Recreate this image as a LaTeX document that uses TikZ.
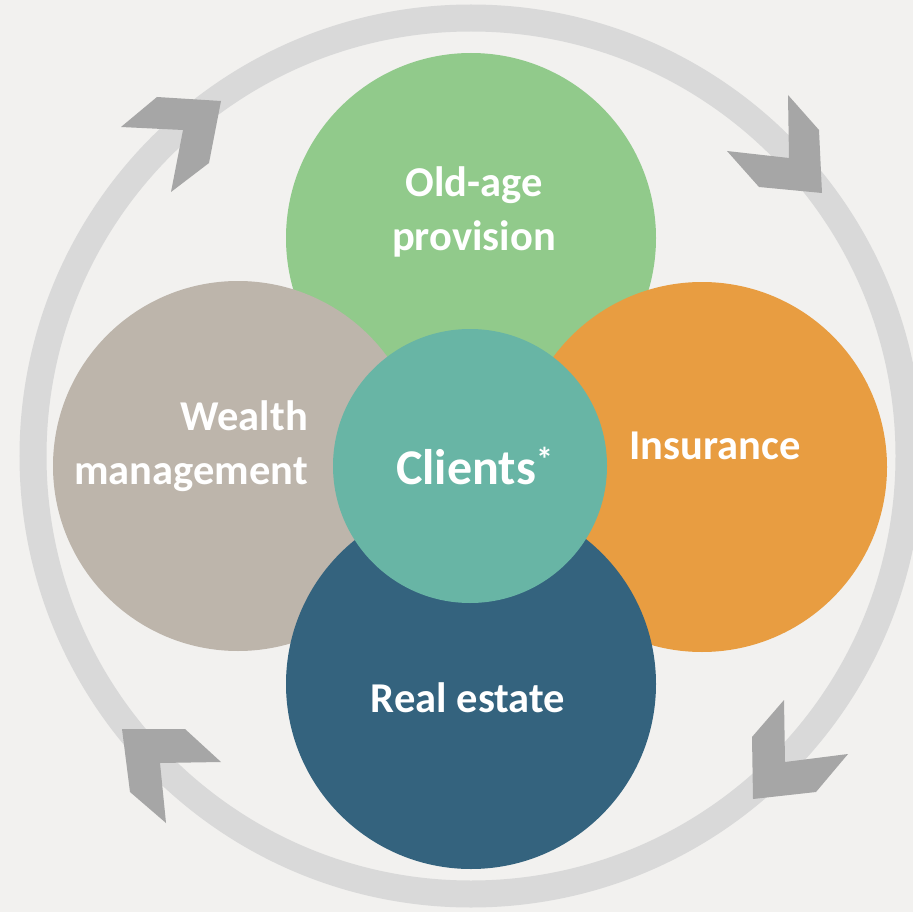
\documentclass[tikz,border=0pt]{standalone}
\usepackage{fontspec}
\setmainfont{Carlito}
\usetikzlibrary{positioning}

\definecolor{paper}{HTML}{F2F1EF}
\definecolor{ringgray}{HTML}{D9D9D9}
\definecolor{chevgray}{HTML}{A6A6A6}
\definecolor{oldgreen}{HTML}{91CA8B}
\definecolor{insorange}{HTML}{E89D41}
\definecolor{wealthgray}{HTML}{BDB5AB}
\definecolor{estateblue}{HTML}{34637E}
\definecolor{clientteal}{HTML}{68B5A5}

\begin{document}
\begin{tikzpicture}[x=1pt,y=-1pt,
		blob/.style={circle,inner sep=0pt,minimum size=370pt},
		lbl/.style={text=white,font=\fontsize{42.5}{54}\selectfont\bfseries,align=center,inner sep=0pt},
		chev/.style={fill=chevgray}]
		\fill[paper] (0,0) rectangle (913,912);
		\useasboundingbox (0,0) rectangle (913,912);
		
		% outer ring
		\draw[ringgray,line width=27pt] (471,456) circle [radius=438];
		
		% chevrons
		\fill[chev] (121,127) -- (157,97) -- (221,101) -- (209,163) -- (171,192) -- (183,130) -- cycle;
		\fill[chev] (788,95) -- (819,130) -- (822,193) -- (759,187) -- (727,151) -- (789,158) -- cycle;
		\fill[chev] (848,754) -- (816,792) -- (753,799) -- (752,737) -- (784,700) -- (785,762) -- cycle;
		\fill[chev] (166,823) -- (130,792) -- (122,729) -- (185,729) -- (221,762) -- (160,763) -- cycle;
		
		% circles
		\node[blob,fill=oldgreen] (old) at (471,238) {};
		\node[blob,fill=wealthgray] (wealth) at (238,466) {};
		\node[blob,fill=insorange] (ins) at (702,467) {};
		\node[blob,fill=estateblue] (estate) at (471,684) {};
		\node[circle,inner sep=0pt,minimum size=274pt,fill=clientteal] (clients) at (470,466) {};
		
		% labels
		\node[lbl] (oldtxt) at (474,212) {Old-age\\provision};
		\node[lbl,align=right,anchor=east] (wealthtxt) at (308,446) {Wealth\\management};
		\node[lbl] (instxt) at (715,446) {Insurance};
		\node[lbl] (estatetxt) at (468,698) {Real estate};
		\node[lbl,font=\fontsize{50}{60}\selectfont\bfseries,anchor=west] (clienttxt) at (396,466) {Clients\raisebox{13pt}{\fontsize{34}{34}\selectfont *}};
		
	\end{tikzpicture}
\end{document}
